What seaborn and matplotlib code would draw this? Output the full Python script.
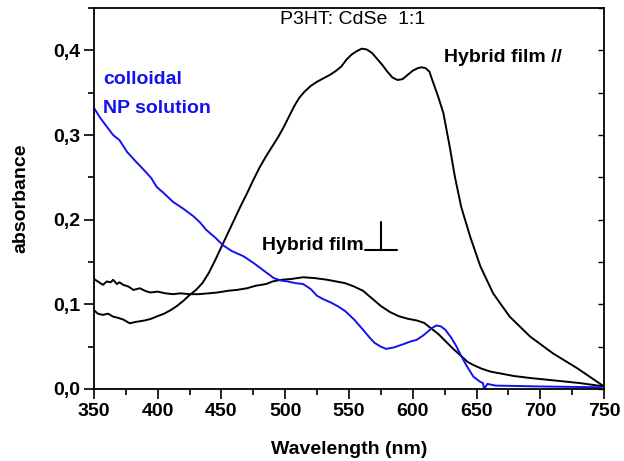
import matplotlib
matplotlib.use("Agg")
import matplotlib.pyplot as plt
from matplotlib.ticker import MultipleLocator, FuncFormatter
import seaborn as sns

sns.set_style("white")
plt.rcParams['font.family'] = ['Liberation Sans', 'DejaVu Sans']
plt.rcParams['text.color'] = 'black'
plt.rcParams['axes.labelcolor'] = 'black'
plt.rcParams['xtick.color'] = 'black'
plt.rcParams['ytick.color'] = 'black'

# Hybrid film // (parallel)
wl_par = [350, 353, 357, 361, 365, 369, 373, 378, 382, 386, 390, 395, 399, 405, 410, 415, 420, 425,
          430, 435, 440, 445, 450, 455, 460, 465, 470, 475, 480, 485, 490, 495, 499, 503, 507, 511,
          515, 520, 525, 530, 535, 540, 544, 548, 552, 556, 560, 564, 568, 572, 576, 580, 584, 588,
          592, 596, 600, 604, 607, 610, 613, 616, 620, 624, 629, 633, 638, 645, 653, 663, 676, 692,
          710, 729, 750]
abs_par = [0.093, 0.089, 0.0875, 0.089, 0.0855, 0.084, 0.082, 0.0776, 0.079, 0.080, 0.081, 0.083,
           0.0855, 0.089, 0.093, 0.098, 0.104, 0.111, 0.117, 0.125, 0.137, 0.152, 0.168, 0.184,
           0.200, 0.216, 0.231, 0.247, 0.262, 0.275, 0.287, 0.299, 0.310, 0.322, 0.334, 0.344,
           0.351, 0.358, 0.363, 0.367, 0.371, 0.376, 0.381, 0.389, 0.395, 0.399, 0.402, 0.401,
           0.397, 0.390, 0.383, 0.375, 0.368, 0.365, 0.366, 0.371, 0.376, 0.379, 0.380, 0.379,
           0.375, 0.362, 0.345, 0.326, 0.286, 0.251, 0.215, 0.180, 0.145, 0.113, 0.0855, 0.062,
           0.042, 0.0245, 0.003]

# Hybrid film ⊥ (perpendicular)
wl_perp = [350, 353, 357, 360, 363, 365, 368, 370, 373, 377, 381, 386, 390, 394, 400, 406, 412, 418,
           425, 432, 440, 447, 455, 462, 470, 477, 485, 490, 497, 505, 514, 523, 533, 540, 547, 554,
           561, 568, 575, 582, 589, 596, 603, 609, 614, 620, 626, 632, 638, 643, 648, 654, 661, 670,
           679, 692, 705, 718, 731, 750]
abs_perp = [0.130, 0.127, 0.123, 0.127, 0.126, 0.129, 0.124, 0.126, 0.123, 0.121, 0.117, 0.119,
            0.116, 0.114, 0.115, 0.113, 0.112, 0.113, 0.112, 0.112, 0.113, 0.114, 0.116, 0.117,
            0.119, 0.122, 0.124, 0.127, 0.129, 0.130, 0.132, 0.131, 0.129, 0.127, 0.125, 0.121,
            0.116, 0.107, 0.098, 0.091, 0.086, 0.083, 0.081, 0.078, 0.072, 0.065, 0.056, 0.047,
            0.039, 0.032, 0.028, 0.024, 0.0205, 0.018, 0.0154, 0.013, 0.011, 0.009, 0.007, 0.003]

# colloidal NP solution
wl_np = [350, 355, 360, 365, 370, 376, 382, 389, 395, 399, 405, 412, 420, 428, 433, 438, 445, 451,
         458, 467, 475, 483, 491, 497, 502, 508, 514, 520, 525, 530, 536, 542, 547, 554, 561, 566,
         570, 575, 579, 585, 592, 598, 603, 608, 612, 615, 618.5, 622, 625.5, 630, 634, 638, 642,
         647.5, 652.7, 655, 656, 658.5, 665, 700, 748]
abs_np = [0.332, 0.320, 0.310, 0.300, 0.294, 0.280, 0.270, 0.259, 0.249, 0.239, 0.231, 0.221,
          0.213, 0.204, 0.197, 0.188, 0.179, 0.170, 0.163, 0.157, 0.149, 0.140, 0.131, 0.128,
          0.127, 0.125, 0.124, 0.118, 0.110, 0.106, 0.102, 0.097, 0.092, 0.082, 0.070, 0.061,
          0.0545, 0.050, 0.0474, 0.049, 0.0526, 0.056, 0.058, 0.063, 0.068, 0.072, 0.075, 0.074,
          0.070, 0.061, 0.051, 0.039, 0.028, 0.0146, 0.0087, 0.007, 0.000, 0.006, 0.004,
          0.003, 0.002]

x_ticks = [350, 400, 450, 500, 550, 600, 650, 700, 750]
y_ticks = [0.0, 0.1, 0.2, 0.3, 0.4]

blue = "#1212f0"

fig = plt.figure(figsize=(6.24, 4.61), dpi=100)
ax = fig.add_axes([0.1506, 0.1562, 0.968 - 0.1506, 0.9826 - 0.1562])

sns.lineplot(x=wl_par, y=abs_par, ax=ax, color="black", lw=1.4, sort=False, estimator=None)
sns.lineplot(x=wl_perp, y=abs_perp, ax=ax, color="black", lw=1.4, sort=False, estimator=None)
sns.lineplot(x=wl_np, y=abs_np, ax=ax, color=blue, lw=1.4, sort=False, estimator=None)

ax.set_xlim(350, 750)
ax.set_ylim(0, 0.45)
ax.set_xticks(x_ticks)
ax.set_yticks(y_ticks)
ax.xaxis.set_minor_locator(MultipleLocator(25))
ax.yaxis.set_minor_locator(MultipleLocator(0.05))
ax.yaxis.set_major_formatter(FuncFormatter(lambda v, p: f"{v:.1f}".replace(".", ",")))
ax.tick_params(which="major", direction="out", length=7, width=1.2, labelsize=14, pad=3,
               left=True, bottom=True, top=False, right=False)
ax.tick_params(which="minor", direction="out", length=4.5, width=1.2,
               left=True, bottom=True, top=False, right=False)
for lab in ax.get_xticklabels() + ax.get_yticklabels():
    lab.set_fontweight("bold")

sec = ax.secondary_yaxis("right")
sec.set_yticks(y_ticks)
sec.yaxis.set_minor_locator(MultipleLocator(0.05))
sec.tick_params(which="both", direction="in", length=4, width=1.0, labelright=False)
sec.spines["right"].set_visible(False)

for s in ax.spines.values():
    s.set_visible(True)
    s.set_color("black")
    s.set_linewidth(1.3)

ax.set_xlabel("Wavelength (nm)", fontsize=14, fontweight="bold", labelpad=15)
ax.set_ylabel("absorbance", fontsize=14, fontweight="bold", labelpad=17)

ax.text(553, 0.436, "P3HT: CdSe  1:1", fontsize=14, ha="center", va="center")
ax.text(624.5, 0.391, "Hybrid film //", fontsize=14, fontweight="bold", ha="left", va="center")
ax.text(357, 0.365, "colloidal", fontsize=14, fontweight="bold", color=blue, ha="left", va="center")
ax.text(357, 0.331, "NP solution", fontsize=14, fontweight="bold", color=blue, ha="left", va="center")
ax.text(481.5, 0.1643, "Hybrid film", fontsize=14, fontweight="bold", ha="left", va="baseline")
# perpendicular symbol next to the label
ax.plot([562.5, 587.4], [0.1643, 0.1643], color="black", lw=1.5)
ax.plot([575.1, 575.1], [0.1643, 0.197], color="black", lw=1.5)

fig.savefig("out.png", dpi=100)
